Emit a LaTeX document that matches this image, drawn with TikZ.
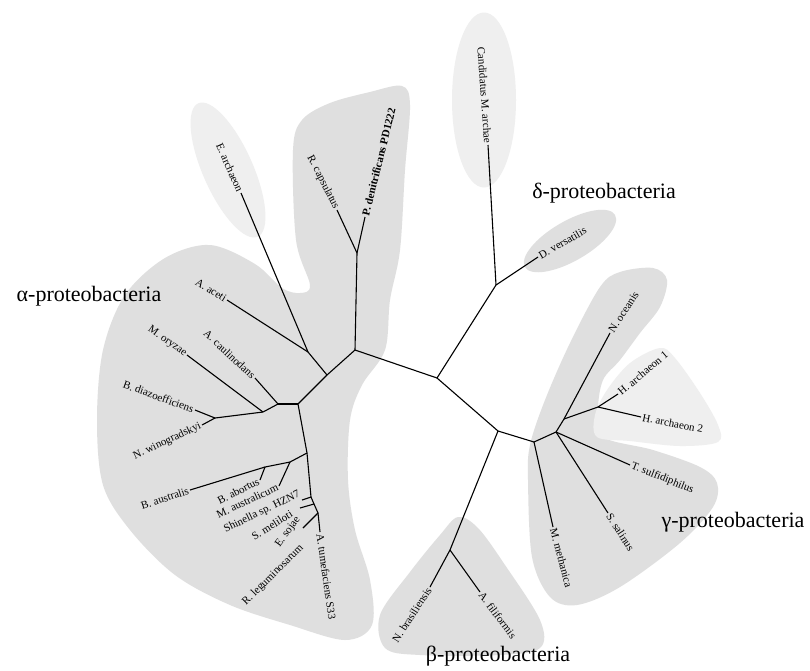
\documentclass[tikz,border=0pt]{standalone}
\usepackage{fontspec}
\setmainfont{Liberation Serif}
\usetikzlibrary{shapes.geometric}

\definecolor{cladegray}{HTML}{DFDFDF}
\definecolor{palegray}{HTML}{EFEFEF}

\begin{document}
\begin{tikzpicture}[x=1pt,y=-1pt,
  branch/.style={line width=1.1pt,line join=round},
  leaf/.style={font=\fontsize{11}{13}\selectfont,inner sep=1.5pt},
  clade/.style={font=\fontsize{22}{26}\selectfont},
  blob/.style={ellipse,fill=palegray,inner sep=0pt}]

% white background, same size as the figure
\useasboundingbox[fill=white] (0,0) rectangle (810,670);

% shaded clades
% alpha (with the P. denitrificans lobe)
\fill[cladegray] plot[smooth cycle,tension=0.55] coordinates {
  (293,150) (302,120) (330,103) (370,92) (402,86) (410,105) (405,170)
  (400,250) (390,300) (385,350) (362,385) (350,420) (348,480) (355,530)
  (370,580) (372,625) (345,640) (290,625) (230,605) (175,575) (130,530)
  (103,485) (97,420) (103,350) (125,295) (165,258) (210,245) (255,264)
  (282,288) (300,293) (310,285) (296,240)};
% beta
\fill[cladegray] plot[smooth cycle,tension=0.55] coordinates {
  (458,517) (478,528) (505,565) (540,620) (540,648) (500,655) (420,655)
  (385,648) (380,615) (410,572) (440,535)};
% gamma
\fill[cladegray] plot[smooth cycle,tension=0.55] coordinates {
  (530,445) (528,480) (532,557) (550,597) (577,605) (620,587) (680,543)
  (713,507) (717,483) (700,467) (653,450) (603,437) (598,410) (603,380)
  (620,360) (640,333) (660,307) (667,280) (653,268) (620,272) (600,287)
  (570,343) (545,400)};
% H. archaeon patch
\fill[palegray] plot[smooth cycle,tension=0.55] coordinates {
  (597,437) (595,415) (607,390) (630,363) (660,348) (675,358) (700,393)
  (718,425) (718,442) (680,446) (630,441)};
% delta and single taxa
\node[blob,fill=cladegray,minimum width=104pt,minimum height=40pt,rotate=30] (dblob) at (570,241) {};
\node[blob,minimum width=64pt,minimum height=175pt] (cblob) at (484,100) {};
\node[blob,minimum width=146pt,minimum height=50pt,rotate=-66] (eblob) at (228,170) {};

% branch points
\coordinate (C1) at (355,350);
\coordinate (Pfork) at (357,253);
\coordinate (C2) at (327,375);
\coordinate (Eaj) at (308,352);
\coordinate (C2b) at (298,404);
\coordinate (C2c) at (278,404);
\coordinate (C2d) at (263,412);
\coordinate (C2e) at (215,418);
\coordinate (J1) at (307,453);
\coordinate (J2) at (290,462);
\coordinate (J3) at (265,467);
\coordinate (J4) at (311,497);
\coordinate (J5) at (314,504);
\coordinate (J6) at (318,513);
\coordinate (C3) at (437,378);
\coordinate (Dfork) at (496,285);
\coordinate (C4) at (498,431);
\coordinate (Bfork) at (450,550);
\coordinate (C5) at (534,442);
\coordinate (C6) at (556,432);
\coordinate (C7) at (564,419);
\coordinate (C8) at (598,407);

% tips
\coordinate (tEarch) at (241,193);
\coordinate (tAaceti) at (227,300);
\coordinate (tRcap) at (337,210);
\coordinate (tPden) at (365,217);
\coordinate (tCand) at (488,145);
\coordinate (tDvers) at (538,257);
\coordinate (tNoce) at (610,333);
\coordinate (tH1) at (618,394);
\coordinate (tH2) at (641,417);
\coordinate (tTsulf) at (630,465);
\coordinate (tSsal) at (608,513);
\coordinate (tMmeth) at (553,527);
\coordinate (tAfil) at (480,592);
\coordinate (tNbras) at (430,587);
\coordinate (tAcaul) at (255,378);
\coordinate (tMory) at (187,355);
\coordinate (tBdiaz) at (195,410);
\coordinate (tNwin) at (202,425);
\coordinate (tBaust) at (190,490);
\coordinate (tBabort) at (260,480);
\coordinate (tMaust) at (279,486);
\coordinate (tShin) at (302,500);
\coordinate (tSmel) at (300,508);
\coordinate (tEsoj) at (303,528);
\coordinate (tAtum) at (320,532);

% draw the tree
\foreach \a/\b in {C1/Pfork,Pfork/tRcap,Pfork/tPden,C1/C2,C2/Eaj,Eaj/tEarch,
    Eaj/tAaceti,C2/C2b,C2b/C2c,C2c/tAcaul,C2c/C2d,C2d/tMory,C2d/C2e,
    C2e/tBdiaz,C2e/tNwin,C2b/J1,J1/J2,J2/tMaust,J2/J3,J3/tBabort,J3/tBaust,
    J1/J4,J4/tShin,J4/J5,J5/tSmel,J5/J6,J6/tEsoj,J6/tAtum,
    C1/C3,C3/Dfork,Dfork/tCand,Dfork/tDvers,C3/C4,C4/Bfork,Bfork/tNbras,
    Bfork/tAfil,C4/C5,C5/tMmeth,C5/C6,C6/tTsulf,C6/tSsal,C6/C7,C7/tNoce,
    C7/C8,C8/tH1,C8/tH2}
  \draw[branch] (\a) -- (\b);

% taxon labels
\node[leaf,anchor=east,rotate=-66] (Earch) at (tEarch) {E. archaeon};
\node[leaf,anchor=east,rotate=-32] (Aaceti) at (tAaceti) {A. aceti};
\node[leaf,anchor=east,rotate=-63] (Rcap) at (tRcap) {R. capsulatus};
\node[leaf,anchor=west,rotate=76,font=\fontsize{11}{13}\selectfont\bfseries] (Pden) at (tPden) {P. denitrificans PD1222};
\node[leaf,anchor=east,rotate=-86] (Cand) at (tCand) {Candidatus M. archae};
\node[leaf,anchor=west,rotate=30] (Dvers) at (tDvers) {D. versatilis};
\node[leaf,anchor=west,rotate=57] (Noce) at (tNoce) {N. oceanis};
\node[leaf,anchor=west,rotate=40] (H1) at (tH1) {H. archaeon 1};
\node[leaf,anchor=west,rotate=-11] (H2) at (tH2) {H. archaeon 2};
\node[leaf,anchor=west,rotate=-22] (Tsulf) at (tTsulf) {T. sulfidiphilus};
\node[leaf,anchor=west,rotate=-57] (Ssal) at (tSsal) {S. salinus};
\node[leaf,anchor=west,rotate=-75] (Mmeth) at (tMmeth) {M. methanica};
\node[leaf,anchor=west,rotate=-53] (Afil) at (tAfil) {A. filiformis};
\node[leaf,anchor=east,rotate=57] (Nbras) at (tNbras) {N. brasiliensis};
\node[leaf,anchor=east,rotate=-43] (Acaul) at (tAcaul) {A. caulinodans};
\node[leaf,anchor=east,rotate=-35] (Mory) at (tMory) {M. oryzae};
\node[leaf,anchor=east,rotate=-20] (Bdiaz) at (tBdiaz) {B. diazoefficiens};
\node[leaf,anchor=east,rotate=25] (Nwin) at (tNwin) {N. winogradskyi};
\node[leaf,anchor=east,rotate=18] (Baust) at (tBaust) {B. australis};
\node[leaf,anchor=east,rotate=27] (Babort) at (tBabort) {B. abortus};
\node[leaf,anchor=east,rotate=25] (Maust) at (tMaust) {M. australicum};
\node[leaf,rotate=26] (Shin) at (262,512) {Shinella sp. HZN7};
\node[leaf,rotate=32] (Smel) at (272,525) {S. meliloti};
\node[leaf,rotate=54] (Esoj) at (288,532) {E. sojae};
\node[leaf,anchor=west,rotate=-82] (Atum) at (tAtum) {A. tumefaciens S33};
\node[leaf,rotate=45] (Rleg) at (273,575) {R. leguminosarum};

% clade names
\node[clade] (alpha) at (89,296) {α-proteobacteria};
\node[clade] (delta) at (604,193) {δ-proteobacteria};
\node[clade] (gamma) at (733,522) {γ-proteobacteria};
\node[clade] (beta) at (498,656) {β-proteobacteria};

\end{tikzpicture}
\end{document}
